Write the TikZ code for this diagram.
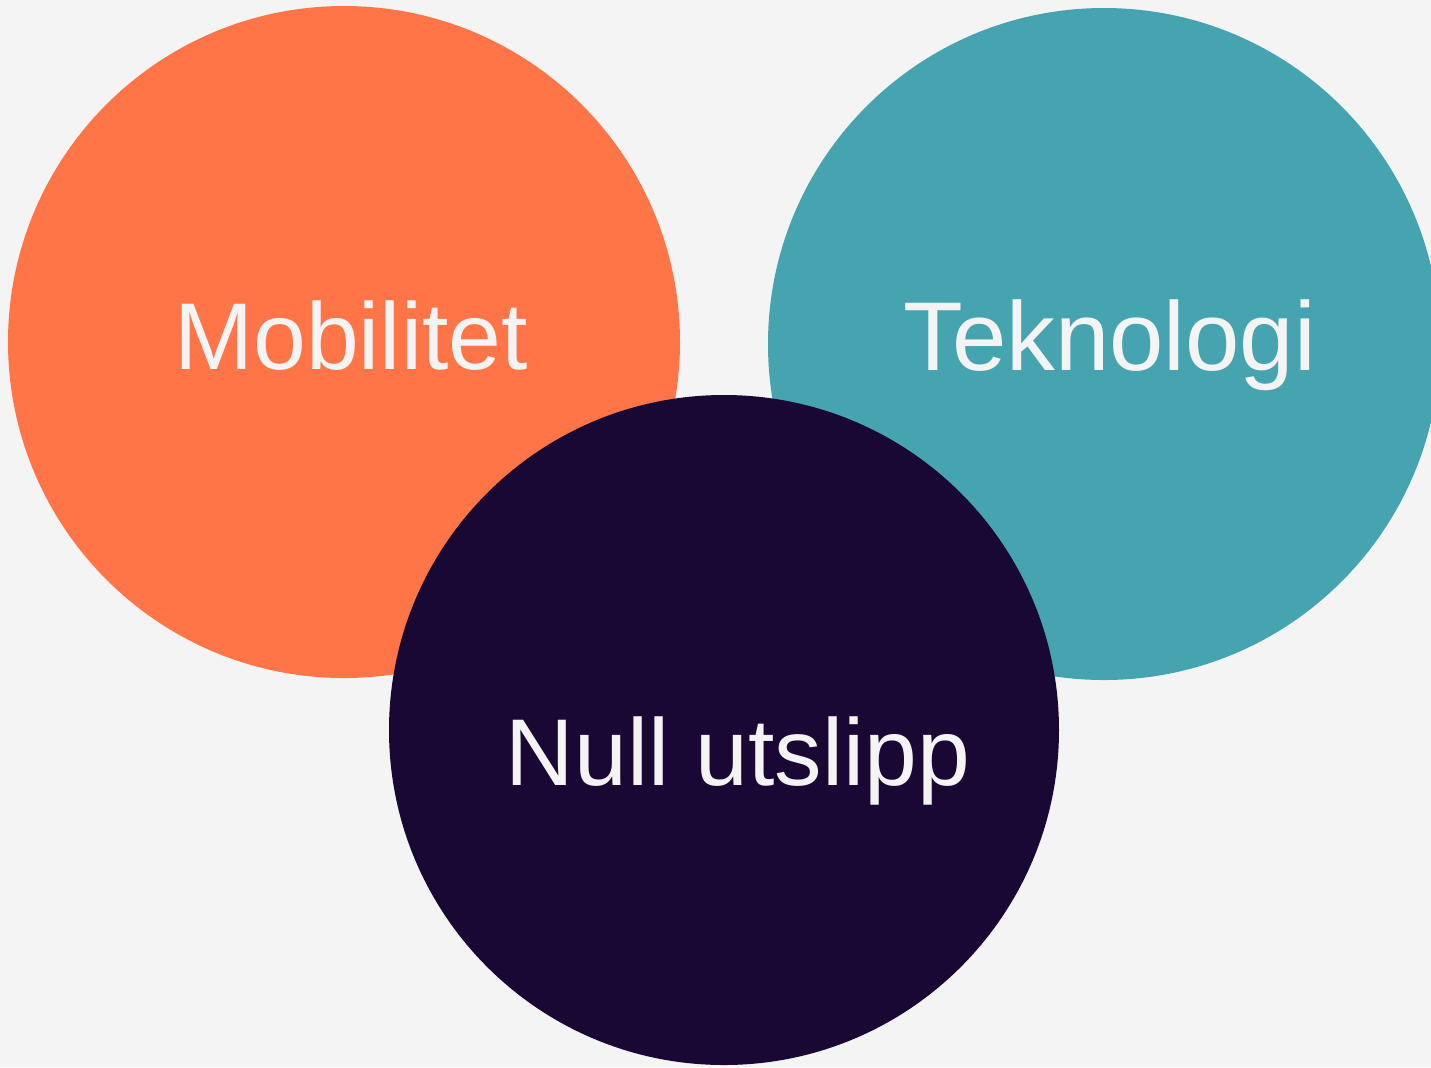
\documentclass[tikz,border=0pt]{standalone}
\usepackage{fontspec}
\setmainfont{Liberation Sans}
\usepackage{tikz}
\definecolor{bggray}{HTML}{F4F4F4}
\definecolor{mobcolor}{HTML}{FF7548}
\definecolor{tekcolor}{HTML}{46A4B1}
\definecolor{nullcolor}{HTML}{180833}
\tikzset{
  bubble/.style={
    circle,
    draw=none,
    inner sep=0pt,
    minimum size=6.72cm},
  bubbletext/.style={
    anchor=base,
    inner sep=0pt,
    text=bggray,
    font=\fontsize{27pt}{32pt}\selectfont},
}
\begin{document}
\begin{tikzpicture}

		\fill[bggray] (0,0) rectangle (14.31,-10.67);
		\useasboundingbox (0,0) rectangle (14.31,-10.67);

		\node[bubble, fill=mobcolor] (mobilitet) at (3.44,-3.42) {};
		\node[bubble, fill=tekcolor] (teknologi) at (11.04,-3.44) {};
		\node[bubble, fill=nullcolor, minimum size=6.70cm] (nullutslipp) at (7.24,-7.30) {};

		\node[bubbletext] (mobtext) at (3.51,-3.69) {Mobilitet};
		\node[bubbletext, font=\fontsize{27.8pt}{33pt}\selectfont] (tektext) at (11.095,-3.70) {Teknologi};
		\node[bubbletext] (nulltext) at (7.38,-7.85) {Null utslipp};

	\end{tikzpicture}
\end{document}
